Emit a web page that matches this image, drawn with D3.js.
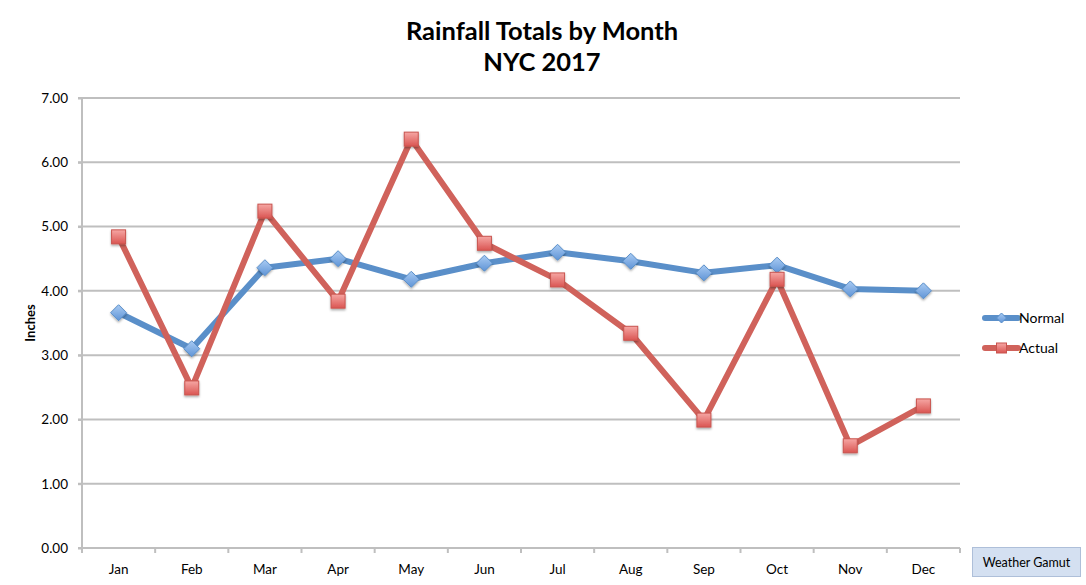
<!DOCTYPE html>
<meta charset="utf-8">
<script src="https://d3js.org/d3.v7.min.js"></script>
<style>
  body { margin: 0; background: #fff; }
  text { font-family: Lato, "Open Sans", sans-serif; fill: #000; }
</style>
<div id="chart"></div>
<script>

// data
var months = ["Jan", "Feb", "Mar", "Apr", "May", "Jun", "Jul", "Aug", "Sep", "Oct", "Nov", "Dec"];
var normal = [3.66, 3.10, 4.36, 4.50, 4.18, 4.43, 4.60, 4.46, 4.28, 4.40, 4.03, 4.00];
var actual = [4.84, 2.49, 5.24, 3.84, 6.36, 4.74, 4.17, 3.34, 1.99, 4.18, 1.59, 2.21];
var yTicks = [0, 1, 2, 3, 4, 5, 6, 7];

var width = 1086, height = 585;
var margin = {top: 98, right: 126, bottom: 37, left: 82};

var svg = d3.select("#chart").append("svg")
    .attr("width", width)
    .attr("height", height);

var defs = svg.append("defs");
var gBlue = defs.append("linearGradient").attr("id", "gBlue").attr("x1", 0).attr("y1", 0).attr("x2", 0).attr("y2", 1);
gBlue.append("stop").attr("offset", "0%").attr("stop-color", "#a9cbf3");
gBlue.append("stop").attr("offset", "100%").attr("stop-color", "#5f94d6");
var gRed = defs.append("linearGradient").attr("id", "gRed").attr("x1", 0).attr("y1", 0).attr("x2", 0).attr("y2", 1);
gRed.append("stop").attr("offset", "0%").attr("stop-color", "#f6a7a4");
gRed.append("stop").attr("offset", "100%").attr("stop-color", "#da5552");
var shadow = defs.append("filter").attr("id", "shadow").attr("x", "-50%").attr("y", "-50%").attr("width", "200%").attr("height", "200%");
shadow.append("feDropShadow").attr("dx", 0).attr("dy", 1.5).attr("stdDeviation", 1.2).attr("flood-opacity", 0.35);

var x = d3.scaleBand()
    .domain(months)
    .range([margin.left, width - margin.right]);

var y = d3.scaleLinear()
    .domain([0, 7])
    .range([height - margin.bottom, margin.top]);

// gridlines
svg.append("g")
  .selectAll("line")
  .data(yTicks)
  .enter().append("line")
    .attr("x1", margin.left - 4)
    .attr("x2", width - margin.right)
    .attr("y1", function(d) { return y(d); })
    .attr("y2", function(d) { return y(d); })
    .attr("stroke", "#bfbfbf")
    .attr("stroke-width", 2);

// y axis
var yAxis = svg.append("g")
    .attr("transform", "translate(" + margin.left + ",0)")
    .call(d3.axisLeft(y).tickValues(yTicks).tickSize(4).tickPadding(10).tickFormat(d3.format(".2f")));
yAxis.selectAll("line, path").attr("stroke", "#bfbfbf").attr("stroke-width", 2);
yAxis.select(".domain").attr("d", "M0," + (y(0) + 5) + "V" + y(7));
yAxis.selectAll("text").style("font-size", "13.5px").style("font-family", "Lato, 'Open Sans', sans-serif").attr("fill", "#000");

// x axis
var xAxis = svg.append("g")
    .attr("transform", "translate(0," + y(0) + ")")
    .call(d3.axisBottom(x).tickSize(0).tickPadding(16));
xAxis.select(".domain").attr("stroke", "#bfbfbf").attr("stroke-width", 2).attr("d", "M" + margin.left + ",0H" + (width - margin.right));
xAxis.selectAll("text").style("font-size", "13.5px").style("font-family", "Lato, 'Open Sans', sans-serif").attr("fill", "#000");
xAxis.append("g")
  .selectAll("line")
  .data(d3.range(months.length + 1))
  .enter().append("line")
    .attr("x1", function(i) { return margin.left + i * x.step(); })
    .attr("x2", function(i) { return margin.left + i * x.step(); })
    .attr("y1", 0)
    .attr("y2", 5)
    .attr("stroke", "#bfbfbf")
    .attr("stroke-width", 2);

// y label
svg.append("text")
    .attr("transform", "translate(35," + ((y(0) + y(7)) / 2) + ") rotate(-90)")
    .attr("text-anchor", "middle")
    .style("font-size", "13px")
    .style("font-weight", "bold")
    .text("Inches");

// title
svg.append("text")
    .attr("x", 542).attr("y", 40)
    .attr("text-anchor", "middle")
    .style("font-size", "25.5px")
    .style("font-weight", "bold")
    .text("Rainfall Totals by Month");
svg.append("text")
    .attr("x", 542).attr("y", 71)
    .attr("text-anchor", "middle")
    .style("font-size", "25.5px")
    .style("font-weight", "bold")
    .text("NYC 2017");

var cx = function(d, i) { return x(months[i]) + x.bandwidth() / 2; };
var line = d3.line()
    .x(cx)
    .y(function(d) { return y(d); });

// lines
svg.append("path")
    .datum(normal)
    .attr("d", line)
    .attr("fill", "none")
    .attr("stroke", "#5a8fc9")
    .attr("stroke-width", 6)
    .attr("stroke-linejoin", "round");
svg.append("path")
    .datum(actual)
    .attr("d", line)
    .attr("fill", "none")
    .attr("stroke", "#d0625b")
    .attr("stroke-width", 6)
    .attr("stroke-linejoin", "round");

// markers
svg.append("g")
  .selectAll("path")
  .data(normal)
  .enter().append("path")
    .attr("d", "M0,-8L8,0L0,8L-8,0Z")
    .attr("transform", function(d, i) { return "translate(" + cx(d, i) + "," + y(d) + ")"; })
    .attr("fill", "url(#gBlue)")
    .attr("stroke", "#5a8fc9")
    .attr("stroke-width", 1)
    .attr("filter", "url(#shadow)");
svg.append("g")
  .selectAll("rect")
  .data(actual)
  .enter().append("rect")
    .attr("x", function(d, i) { return cx(d, i) - 7; })
    .attr("y", function(d) { return y(d) - 7; })
    .attr("width", 14)
    .attr("height", 14)
    .attr("fill", "url(#gRed)")
    .attr("stroke", "#c9544f")
    .attr("stroke-width", 1)
    .attr("filter", "url(#shadow)");

// legend
var legend = svg.append("g").attr("transform", "translate(985,318)");
legend.append("line").attr("x1", 0).attr("x2", 33).attr("y1", 0).attr("y2", 0)
    .attr("stroke", "#5a8fc9").attr("stroke-width", 6).attr("stroke-linecap", "round");
legend.append("path").attr("d", "M0,-5L5,0L0,5L-5,0Z").attr("transform", "translate(16.5,0)")
    .attr("fill", "url(#gBlue)").attr("stroke", "#5a8fc9");
legend.append("text").attr("x", 34).attr("y", 5).style("font-size", "14px").text("Normal");
legend.append("line").attr("x1", 0).attr("x2", 33).attr("y1", 30).attr("y2", 30)
    .attr("stroke", "#d0625b").attr("stroke-width", 6).attr("stroke-linecap", "round");
legend.append("rect").attr("x", 11.5).attr("y", 25).attr("width", 10).attr("height", 10)
    .attr("fill", "url(#gRed)").attr("stroke", "#c9544f");
legend.append("text").attr("x", 34).attr("y", 35).style("font-size", "14px").text("Actual");

// credit box
svg.append("rect")
    .attr("x", 972.5).attr("y", 547.5)
    .attr("width", 108).attr("height", 29)
    .attr("fill", "#d4e0f1")
    .attr("stroke", "#aebfd9");
svg.append("text")
    .attr("x", 1026.5).attr("y", 566.5)
    .attr("text-anchor", "middle")
    .style("font-size", "12.5px")
    .text("Weather Gamut");
</script>
